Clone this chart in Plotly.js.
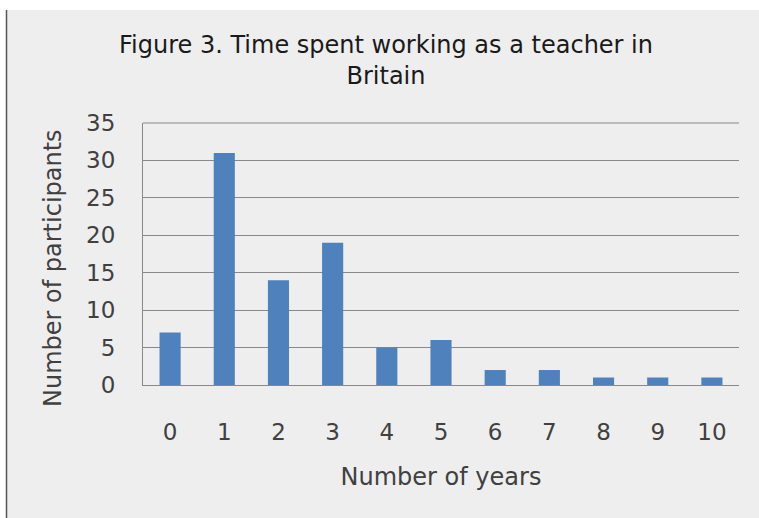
<!DOCTYPE html>
<html>
<head>
<meta charset="utf-8">
<script src="https://cdn.plot.ly/plotly-3.0.1.min.js"></script>
<style>html,body{margin:0;padding:0;background:#fff;}#chart{width:759px;height:518px;}</style>
</head>
<body>
<div id="chart"></div>
<script>
var years = ["0","1","2","3","4","5","6","7","8","9","10"];
var participants = [7, 31, 14, 19, 5, 6, 2, 2, 1, 1, 1];
var yTicks = [0, 5, 10, 15, 20, 25, 30, 35];

var W = 759, H = 518;
var L = 143, R = 20, T = 123, B = 133;
var pw = W - L - R, ph = H - T - B;
function px(x){ return (x - L) / pw; }
function py(y){ return (H - B - y) / ph; }

var font = "DejaVu Sans, Arial, sans-serif";

var trace = {
  type: "bar",
  x: years,
  y: participants,
  marker: {color: "#4f81bd"},
  hoverinfo: "x+y"
};

var layout = {
  width: W, height: H,
  margin: {l: L, r: R, t: T, b: B, pad: 0},
  paper_bgcolor: "#ffffff",
  plot_bgcolor: "#eeeeee",
  bargap: 0.61,
  showlegend: false,
  font: {family: font, color: "#404040"},
  title: {
    text: "Figure 3. Time spent working as a teacher in<br>Britain",
    font: {family: font, size: 24, color: "#1a1a1a"},
    x: 386 / W, xanchor: "center",
    y: 1 - 53 / H, yanchor: "top",
    xref: "container", yref: "container"
  },
  xaxis: {
    type: "category",
    tickvals: years,
    ticktext: years,
    showgrid: false,
    showline: true, linecolor: "#888888", linewidth: 1,
    ticks: "",
    ticklabelstandoff: 26,
    tickfont: {family: font, size: 23, color: "#404040"},
    title: {text: "Number of years", font: {family: font, size: 24, color: "#404040"}, standoff: 24},
    automargin: false,
    zeroline: false
  },
  yaxis: {
    range: [0, 35],
    tickvals: yTicks,
    showgrid: true, gridcolor: "#888888", gridwidth: 1,
    showline: true, linecolor: "#888888", linewidth: 1,
    ticks: "",
    ticklabelstandoff: 22,
    tickfont: {family: font, size: 23, color: "#404040"},
    automargin: false,
    zeroline: false
  },
  annotations: [
    {text: "Number of participants", xref: "paper", yref: "paper",
     x: px(53), y: py(268), xanchor: "center", yanchor: "middle",
     textangle: -90, showarrow: false,
     font: {family: font, size: 24, color: "#404040"}}
  ],
  shapes: [
    {type: "rect", layer: "below", xref: "paper", yref: "paper",
     x0: px(6), x1: px(W + 5), y0: py(10), y1: py(H + 5),
     fillcolor: "#eeeeee", line: {width: 0}},
    {type: "line", layer: "above", xref: "paper", yref: "paper",
     x0: px(6.5), x1: px(6.5), y0: py(10), y1: py(H + 5),
     line: {color: "#555555", width: 1.5}},
    {type: "line", layer: "above", xref: "paper", yref: "paper",
     x0: 0, x1: 1, y0: 1, y1: 1,
     line: {color: "#888888", width: 1}}
  ]
};

Plotly.newPlot("chart", [trace], layout, {displayModeBar: false, staticPlot: true});
</script>
</body>
</html>
